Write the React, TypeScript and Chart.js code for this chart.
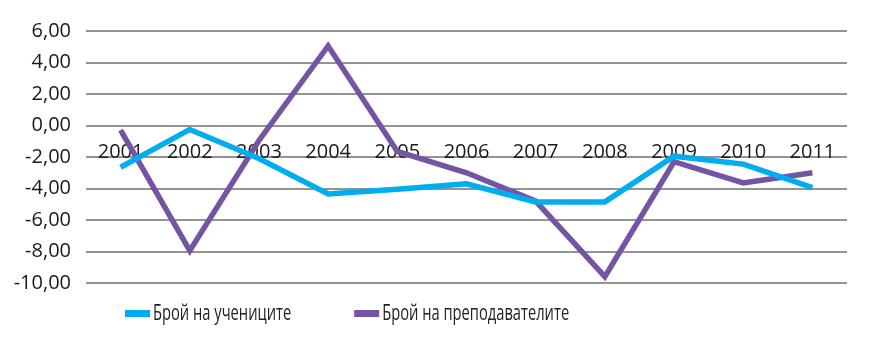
import React, { useEffect, useRef } from "react";
import { Chart, registerables } from "chart.js";

Chart.register(...registerables);

const categories = ["2001", "2002", "2003", "2004", "2005", "2006", "2007", "2008", "2009", "2010", "2011"];
const students = [-2.65, -0.25, -2.1, -4.35, -4.05, -3.7, -4.85, -4.85, -1.95, -2.45, -3.95];
const teachers = [-0.3, -7.95, -0.95, 5.05, -1.65, -3.0, -4.8, -9.6, -2.3, -3.65, -3.0];
const seriesNames = ["Брой на учениците", "Брой на преподавателите"];
const seriesColors = ["#00AEEF", "#7654A4"];

const FONT = "'Open Sans', sans-serif";

const customLegend = {
  id: "customLegend",
  afterDraw(chart: any) {
    const ctx = chart.ctx;
    const area = chart.chartArea;
    ctx.save();
    ctx.font = `21px ${FONT}`;
    ctx.textBaseline = "middle";
    const y = area.bottom + 30;
    let x = area.left + 39;
    chart.data.datasets.forEach((ds: any) => {
      ctx.fillStyle = ds.borderColor;
      ctx.fillRect(x, y - 3, 25, 7);
      ctx.fillStyle = "#222222";
      const w = ctx.measureText(ds.label).width * 0.7;
      ctx.fillText(ds.label, x + 28, y + 1, w);
      x += 28 + w + 63;
    });
    ctx.restore();
  },
};

export default function App() {
  const ref = useRef<HTMLCanvasElement | null>(null);
  useEffect(() => {
    document.body.style.margin = "0";
    const chart = new Chart(ref.current as HTMLCanvasElement, {
      type: "line",
      data: {
        labels: categories,
        datasets: [
          {
            label: seriesNames[0],
            data: students,
            borderColor: seriesColors[0],
            backgroundColor: seriesColors[0],
            borderWidth: 5.5,
            pointRadius: 0,
            tension: 0,
            fill: false,
          },
          {
            label: seriesNames[1],
            data: teachers,
            borderColor: seriesColors[1],
            backgroundColor: seriesColors[1],
            borderWidth: 5.5,
            pointRadius: 0,
            tension: 0,
            fill: false,
          },
        ],
      },
      options: {
        animation: false,
        responsive: false,
        maintainAspectRatio: false,
        layout: { padding: { left: 0, right: 49, top: 31, bottom: 75 } },
        plugins: { legend: { display: false }, tooltip: { enabled: false } },
        scales: {
          y: {
            min: -10,
            max: 6,
            afterFit: (scale: any) => {
              scale.width = 86;
            },
            ticks: {
              stepSize: 2,
              padding: 15,
              color: "#1a1a1a",
              font: { family: FONT, size: 20 },
              callback: (v: any) => Number(v).toFixed(2).replace(".", ","),
            },
            grid: { color: "#939393", lineWidth: 2, drawTicks: false },
            border: { display: false },
          },
          x: {
            position: { y: 0 } as any,
            offset: true,
            z: 1,
            ticks: {
              padding: 15,
              color: "#1a1a1a",
              font: { family: FONT, size: 20 },
              maxRotation: 0,
              autoSkip: false,
            },
            grid: { display: false, drawTicks: false },
            border: { display: false },
          },
        },
      },
      plugins: [customLegend],
    });
    return () => chart.destroy();
  }, []);
  return <canvas ref={ref} width={896} height={358} style={{ display: "block" }} />;
}
